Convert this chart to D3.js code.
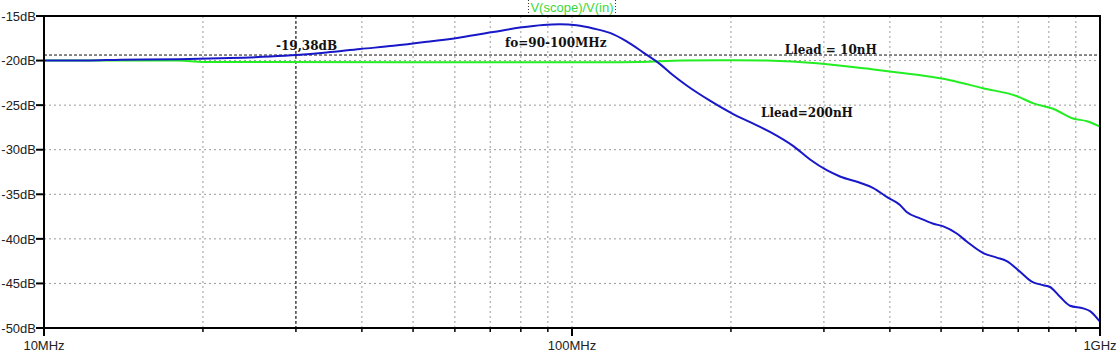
<!DOCTYPE html>
<html>
<head>
<meta charset="utf-8">
<script src="https://cdn.jsdelivr.net/npm/d3@7"></script>
<style>
  body { margin: 0; background: #fff; }
  svg { display: block; }
  .tick-label { font-family: "Liberation Sans", Arial, sans-serif; font-size: 13px; fill: #222; }
  .note { font-family: "DejaVu Serif", serif; font-weight: bold; font-size: 12px; fill: #111; }
</style>
</head>
<body>
<div id="chart"></div>
<script>
// frequency in MHz, gain in dB
var blueFreq = [10, 12, 14, 18, 22.5, 26.8, 30.1, 34.3, 39.7, 45.9, 53.1, 61.4, 70.9, 79.7, 88.2, 94.9,
    102, 109.7, 118, 126.9, 136.5, 146.8, 155, 164.9, 182.5, 202, 217.4, 237.1, 262.6, 282.4, 303.7, 321.8,
    351.2, 372.2, 394.5, 418, 430.4, 456.2, 483.4, 505, 535.4, 559.2, 601, 637.4, 665.8, 705.7, 742.5,
    780.9, 804.1, 840, 877.6, 929.8, 957.4, 1000]
var blueDb = [-20.0, -20.0, -19.9, -19.85, -19.72, -19.55, -19.38, -19.1, -18.7, -18.35, -17.9, -17.4, -16.8, -16.3, -16.0, -15.93,
    -16.05, -16.4, -16.9, -17.85, -19.1, -20.4, -21.6, -22.8, -24.5, -26.0, -26.9, -28.0, -29.6, -31.1, -32.3, -33.0,
    -33.7, -34.3, -35.3, -36.2, -37.0, -37.7, -38.3, -38.6, -39.4, -40.3, -41.6, -42.1, -42.5, -43.7, -44.8,
    -45.2, -45.4, -46.5, -47.5, -47.8, -48.1, -49.3]

var greenFreq = [10, 18, 20, 50, 113, 134.5, 162, 202, 234, 291, 362, 450, 520, 600, 697, 748, 815, 889, 945, 1000]
var greenDb = [-20.0, -20.0, -20.15, -20.2, -20.2, -20.15, -20.0, -19.95, -20.0, -20.3, -20.9, -21.6, -22.2, -23.1,
    -24.0, -24.8, -25.4, -26.5, -26.8, -27.4]

var yTicks = [-15, -20, -25, -30, -35, -40, -45, -50]
var xMajor = [10, 100, 1000]
var xMajorLabels = ['10MHz', '100MHz', '1GHz']
var xMinor = [20, 30, 40, 50, 60, 70, 80, 90, 200, 300, 400, 500, 600, 700, 800, 900]

var cursorFreq = 30
var cursorDb = -19.38
var traceName = 'V(scope)/V(in)'

var notes = [
    { text: '-19,38dB', f: 27.5, db: -18.87 },
    { text: 'fo=90-100MHz', f: 74.7, db: -18.53 },
    { text: 'Llead = 10nH', f: 253, db: -19.26 },
    { text: 'Llead=200nH', f: 228, db: -26.33 }
]

var width = 1120, height = 354
var margin = { top: 16, right: 20, bottom: 26, left: 44 }

var svg = d3.select('#chart').append('svg')
    .attr('width', width)
    .attr('height', height)

var x = d3.scaleLog()
    .domain([10, 1000])
    .range([margin.left, width - margin.right])

var y = d3.scaleLinear()
    .domain([-50, -15])
    .range([height - margin.bottom, margin.top])

// grid
var grid = svg.append('g')
grid.selectAll('.vgrid')
    .data(xMinor.concat([100]))
    .enter().append('line')
    .attr('x1', d => x(d)).attr('x2', d => x(d))
    .attr('y1', y(-15)).attr('y2', y(-50))
    .attr('stroke', '#9a9a9a')
    .attr('stroke-width', 1)
    .attr('stroke-dasharray', '2,3')
grid.selectAll('.hgrid')
    .data(yTicks.slice(1, -1))
    .enter().append('line')
    .attr('x1', x(10)).attr('x2', x(1000))
    .attr('y1', d => y(d)).attr('y2', d => y(d))
    .attr('stroke', '#9a9a9a')
    .attr('stroke-width', 1)
    .attr('stroke-dasharray', '2,3')

// cursor lines
svg.append('line')
    .attr('x1', x(cursorFreq)).attr('x2', x(cursorFreq))
    .attr('y1', y(-15)).attr('y2', y(-50))
    .attr('stroke', '#111')
    .attr('stroke-dasharray', '3,2')
svg.append('line')
    .attr('x1', x(10)).attr('x2', x(1000))
    .attr('y1', y(cursorDb)).attr('y2', y(cursorDb))
    .attr('stroke', '#111')
    .attr('stroke-dasharray', '3,2')

// traces
var line = d3.line()
    .x(d => x(d[0]))
    .y(d => y(d[1]))
    .curve(d3.curveMonotoneX)

svg.append('path')
    .datum(greenFreq.map((f, i) => [f, greenDb[i]]))
    .attr('fill', 'none')
    .attr('stroke', '#22ee22')
    .attr('stroke-width', 2)
    .attr('d', line)

svg.append('path')
    .datum(blueFreq.map((f, i) => [f, blueDb[i]]))
    .attr('fill', 'none')
    .attr('stroke', '#1818c8')
    .attr('stroke-width', 2)
    .attr('d', line)

// frame
svg.append('rect')
    .attr('x', x(10)).attr('y', y(-15))
    .attr('width', x(1000) - x(10))
    .attr('height', y(-50) - y(-15))
    .attr('fill', 'none')
    .attr('stroke', '#000')
    .attr('stroke-width', 2)

// y axis ticks and labels
svg.selectAll('.ytick')
    .data(yTicks)
    .enter().append('line')
    .attr('x1', x(10) - 8).attr('x2', x(10))
    .attr('y1', d => y(d)).attr('y2', d => y(d))
    .attr('stroke', '#000')
    .attr('stroke-width', 2)
svg.selectAll('.ylabel')
    .data(yTicks)
    .enter().append('text')
    .attr('class', 'tick-label')
    .attr('x', x(10) - 8)
    .attr('y', d => y(d))
    .attr('dy', '0.36em')
    .attr('text-anchor', 'end')
    .text(d => d + 'dB')

// x axis ticks and labels
svg.selectAll('.xminor')
    .data(xMinor)
    .enter().append('line')
    .attr('x1', d => x(d)).attr('x2', d => x(d))
    .attr('y1', y(-50)).attr('y2', y(-50) + 4)
    .attr('stroke', '#000')
    .attr('stroke-width', 1.5)
svg.selectAll('.xmajor')
    .data(xMajor)
    .enter().append('line')
    .attr('x1', d => x(d)).attr('x2', d => x(d))
    .attr('y1', y(-50)).attr('y2', y(-50) + 8)
    .attr('stroke', '#000')
    .attr('stroke-width', 2)
svg.selectAll('.xlabel')
    .data(xMajor)
    .enter().append('text')
    .attr('class', 'tick-label')
    .attr('x', d => x(d))
    .attr('y', height - 4)
    .attr('text-anchor', 'middle')
    .text((d, i) => xMajorLabels[i])

// trace name on top
var title = svg.append('text')
    .attr('class', 'tick-label')
    .attr('x', x(100))
    .attr('y', 12)
    .attr('text-anchor', 'middle')
    .style('fill', '#3ad83a')
    .text(traceName)
var tw = title.node().getBBox().width
;[-1, 1].forEach(function (s) {
    svg.append('line')
        .attr('x1', x(100) + s * (tw / 2 + 2)).attr('x2', x(100) + s * (tw / 2 + 2))
        .attr('y1', 0).attr('y2', y(-15) - 1)
        .attr('stroke', '#333')
        .attr('stroke-dasharray', '1,2')
})

// annotations
svg.selectAll('.note')
    .data(notes)
    .enter().append('text')
    .attr('class', 'note')
    .attr('x', d => x(d.f))
    .attr('y', d => y(d.db))
    .text(d => d.text)
</script>
</body>
</html>
